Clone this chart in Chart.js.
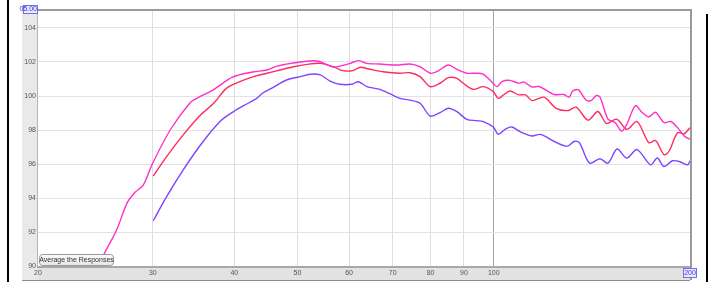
<!DOCTYPE html>
<html>
<head>
<meta charset="utf-8">
<script src="https://cdn.jsdelivr.net/npm/chart.js@4/dist/chart.umd.min.js"></script>
<style>
  html, body { margin: 0; padding: 0; background: #fff; }
  canvas { display: block; }
</style>
</head>
<body>
<canvas id="rew" width="711" height="282"></canvas>
<script>
// tick labels
const xTicks = [20, 30, 40, 50, 60, 70, 80, 90, 100, 200];
const yTicks = [90, 92, 94, 96, 98, 100, 102, 104];

// magenta trace
const magFreq = [24.0, 25.3, 26.4, 27.4, 28.2, 29.0, 30.0, 31.9, 34.2, 35.1, 37.1, 39.8, 42.7, 44.9, 46.5, 50.5, 53.6, 56.7, 58.1, 60.2, 62.0, 63.9, 66.9, 71.0, 74.4, 77.1, 79.9, 81.8, 85.2, 87.8, 90.9, 94.2, 96.3, 98.7, 101.1, 102.9, 105.9, 109.2, 111.2, 114.5, 117.4, 123.7, 128.2, 130.5, 132.2, 134.9, 138.5, 141.0, 143.7, 145.6, 149.7, 153.5, 157.1, 160.0, 164.9, 168.8, 172.9, 177.1, 182.4, 186.9, 191.4, 196.0, 200];
const magDb = [88.9, 90.76, 92.12, 93.71, 94.35, 94.76, 96.06, 98.0, 99.59, 99.88, 100.35, 101.12, 101.41, 101.53, 101.76, 102.0, 102.06, 101.7, 101.76, 101.92, 102.08, 101.92, 101.88, 101.82, 101.88, 101.72, 101.34, 101.43, 101.82, 101.57, 101.34, 101.34, 101.29, 100.94, 100.55, 100.84, 100.92, 100.76, 100.82, 100.53, 100.56, 100.09, 100.09, 99.93, 100.29, 100.36, 99.77, 99.73, 100.03, 99.93, 98.64, 98.44, 97.94, 98.34, 99.43, 99.04, 98.78, 99.04, 98.44, 98.5, 98.14, 97.65, 97.44];

// red trace
const redFreq = [30.05, 31.5, 33.4, 35.5, 37.2, 38.9, 40.8, 42.8, 44.9, 47.0, 49.3, 51.7, 54.2, 56.8, 58.7, 60.8, 62.4, 64.6, 67.6, 71.8, 74.4, 77.1, 79.9, 82.7, 85.2, 87.8, 89.8, 93.0, 96.4, 99.9, 101.6, 103.5, 105.9, 109.2, 111.9, 114.5, 119.4, 124.5, 129.8, 133.8, 139.5, 144.5, 148.9, 154.4, 160.0, 165.9, 172.9, 177.1, 182.4, 185.7, 191.4, 196.0, 200];
const redDb = [95.29, 96.43, 97.71, 98.88, 99.57, 100.45, 100.84, 101.14, 101.34, 101.53, 101.72, 101.86, 101.92, 101.72, 101.49, 101.49, 101.69, 101.57, 101.43, 101.34, 101.37, 101.14, 100.55, 100.75, 101.08, 101.04, 100.75, 100.39, 100.55, 100.25, 99.86, 100.06, 100.29, 100.07, 100.07, 99.73, 99.93, 99.29, 99.14, 99.34, 98.58, 99.09, 98.38, 98.64, 98.04, 98.5, 97.25, 97.38, 96.55, 96.75, 97.84, 97.78, 98.14];

// purple trace
const purFreq = [30.05, 31.5, 33.4, 35.5, 38.0, 39.9, 41.8, 43.3, 44.3, 45.9, 48.1, 50.5, 52.3, 54.2, 56.1, 58.1, 60.6, 62.0, 63.9, 66.9, 69.4, 71.8, 74.4, 77.1, 79.9, 82.7, 85.2, 87.8, 90.9, 94.2, 96.4, 99.9, 101.6, 104.1, 106.6, 109.8, 114.5, 118.0, 124.5, 129.8, 133.0, 135.4, 140.3, 145.5, 149.7, 154.6, 160.0, 165.9, 174.0, 178.2, 182.4, 188.0, 192.5, 198.4, 200];
const purDb = [92.66, 94.08, 95.65, 97.12, 98.49, 99.08, 99.53, 99.86, 100.19, 100.51, 100.94, 101.14, 101.28, 101.24, 100.88, 100.69, 100.69, 100.84, 100.55, 100.39, 100.12, 99.86, 99.76, 99.57, 98.82, 99.02, 99.28, 99.08, 98.63, 98.55, 98.49, 98.16, 97.75, 98.04, 98.18, 97.9, 97.65, 97.74, 97.28, 97.05, 97.34, 97.24, 96.05, 96.31, 96.05, 96.88, 96.35, 96.85, 95.95, 96.35, 95.85, 96.19, 96.15, 95.95, 96.19];

const toPts = (f, d) => f.map((v, i) => ({ x: v, y: d[i] }));

const tinyFont = { family: 'Liberation Sans, Arial, sans-serif', size: 7 };

// gray strips, frame, button, boxed end labels
const rewFrame = {
  id: 'rewFrame',
  beforeDraw(chart) {
    const ctx = chart.ctx;
    const a = chart.chartArea;
    ctx.save();
    ctx.fillStyle = '#fff';
    ctx.fillRect(0, 0, chart.width, chart.height);
    ctx.fillStyle = '#e9e9e9';
    ctx.fillRect(22, 5, a.left - 22, a.bottom + 14 - 5);
    ctx.fillStyle = '#e2e2e2';
    ctx.fillRect(a.left, a.bottom, a.right - a.left, 14);
    ctx.restore();
  },
  afterDraw(chart) {
    const ctx = chart.ctx;
    const a = chart.chartArea;
    ctx.save();
    // frame of the plot
    ctx.strokeStyle = '#9a9a9a';
    ctx.lineWidth = 2;
    ctx.beginPath();
    ctx.moveTo(a.left, a.top - 1);
    ctx.lineTo(a.right + 1, a.top - 1);
    ctx.lineTo(a.right + 1, a.bottom + 14);
    ctx.stroke();
    ctx.strokeStyle = '#b5b5b5';
    ctx.lineWidth = 1;
    ctx.beginPath();
    ctx.moveTo(a.left - 0.5, a.top);
    ctx.lineTo(a.left - 0.5, a.bottom);
    ctx.stroke();
    ctx.strokeStyle = '#a8a8a8';
    ctx.lineWidth = 2;
    ctx.beginPath();
    ctx.moveTo(a.left - 1, a.bottom + 1);
    ctx.lineTo(a.right, a.bottom + 1);
    ctx.stroke();
    ctx.lineWidth = 1;
    ctx.strokeStyle = '#8c8c8c';
    ctx.beginPath();
    ctx.moveTo(22, a.bottom + 14.5);
    ctx.lineTo(a.right, a.bottom + 14.5);
    ctx.stroke();

    // boxed end labels
    ctx.font = '7px Liberation Sans, Arial, sans-serif';
    ctx.textBaseline = 'middle';
    ctx.fillStyle = '#e8e8ff';
    ctx.fillRect(23, 5, 14, 8);
    ctx.strokeStyle = '#6f6fe0';
    ctx.strokeRect(23.5, 5.5, 14, 8);
    ctx.fillStyle = '#3b3bd8';
    ctx.textAlign = 'right';
    ctx.fillText('05.00', 37, 9.5);
    ctx.fillStyle = '#e8e8ff';
    ctx.fillRect(a.right - 7, a.bottom + 2, 13, 9);
    ctx.strokeStyle = '#6f6fe0';
    ctx.strokeRect(a.right - 6.5, a.bottom + 2.5, 13, 9);
    ctx.fillStyle = '#3b3bd8';
    ctx.textAlign = 'center';
    ctx.fillText('200', a.right, a.bottom + 7);

    // button
    const bx = 39.5, by = 254.5, bw = 74, bh = 11;
    ctx.beginPath();
    ctx.roundRect(bx, by, bw, bh, 3);
    const g = ctx.createLinearGradient(0, by, 0, by + bh);
    g.addColorStop(0, '#fbfbfb');
    g.addColorStop(1, '#e6e6e6');
    ctx.fillStyle = g;
    ctx.fill();
    ctx.strokeStyle = '#9b9b9b';
    ctx.stroke();
    ctx.fillStyle = '#333';
    ctx.textAlign = 'center';
    ctx.fillText('Average the Responses', bx + bw / 2, by + bh / 2 + 0.5);

    // black side bars
    ctx.fillStyle = '#000';
    ctx.fillRect(7, 0, 2, chart.height);
    ctx.fillRect(706, 14, 2, chart.height - 14);
    ctx.restore();
  }
};

new Chart(document.getElementById('rew'), {
  type: 'line',
  data: {
    datasets: [
      { label: 'Left', data: toPts(magFreq, magDb), borderColor: '#ff2fcb' },
      { label: 'Right', data: toPts(redFreq, redDb), borderColor: '#ff2b5e' },
      { label: 'Sub', data: toPts(purFreq, purDb), borderColor: '#7f44ff' }
    ]
  },
  options: {
    responsive: false,
    animation: false,
    devicePixelRatio: 1,
    layout: { padding: { left: 22, right: 21, top: 11, bottom: 2 } },
    elements: {
      line: { borderWidth: 1.4, tension: 0.3, fill: false },
      point: { radius: 0 }
    },
    plugins: { legend: { display: false }, tooltip: { enabled: false } },
    scales: {
      x: {
        type: 'logarithmic',
        min: 20,
        max: 200,
        afterBuildTicks: s => { s.ticks = xTicks.map(v => ({ value: v })); },
        afterFit: s => { s.height = 14; },
        border: { display: false },
        grid: {
          drawTicks: false,
          color: c => c.tick && c.tick.value === 100 ? '#a0a0a0' : (c.tick && (c.tick.value === 20 || c.tick.value === 200) ? 'rgba(0,0,0,0)' : '#dedede'),
          lineWidth: 1
        },
        ticks: {
          padding: 3,
          maxRotation: 0,
          autoSkip: false,
          color: '#555',
          font: tinyFont,
          callback: v => (v === 200 ? '' : String(v))
        }
      },
      y: {
        min: 90,
        max: 105,
        afterBuildTicks: s => { s.ticks = yTicks.map(v => ({ value: v })); },
        afterFit: s => { s.width = 16; },
        border: { display: false },
        grid: {
          drawTicks: false,
          color: c => c.tick && c.tick.value === 90 ? 'rgba(0,0,0,0)' : '#e2e2e2',
          lineWidth: 1
        },
        ticks: {
          padding: 2,
          color: '#555',
          font: tinyFont,
          callback: v => String(v)
        }
      }
    }
  },
  plugins: [rewFrame]
});
</script>
</body>
</html>
